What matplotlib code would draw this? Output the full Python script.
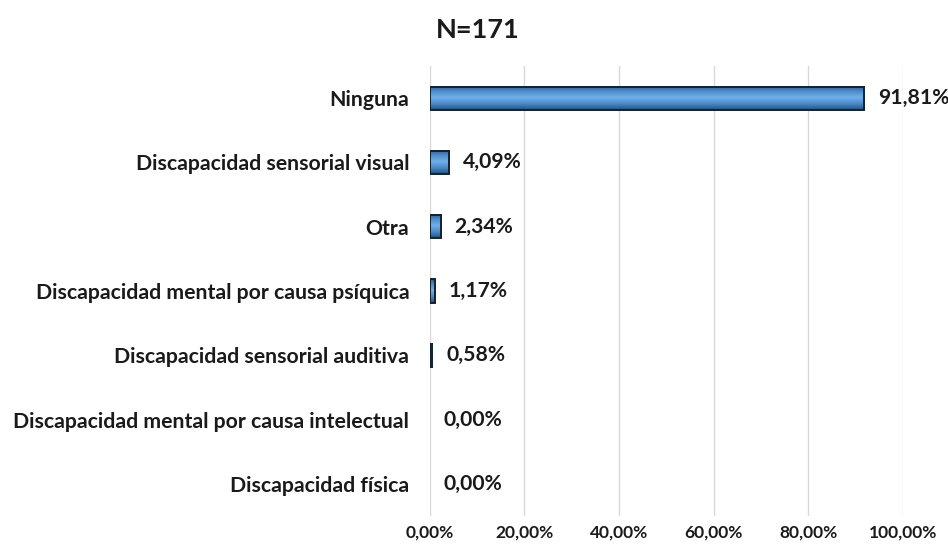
import numpy as np
import matplotlib.pyplot as plt
import matplotlib.ticker as mticker
from matplotlib.colors import LinearSegmentedColormap

# ── Data ──────────────────────────────────────────────────────────────────────
categories = [
    "Ninguna",
    "Discapacidad sensorial visual",
    "Otra",
    "Discapacidad mental por causa psíquica",
    "Discapacidad sensorial auditiva",
    "Discapacidad mental por causa intelectual",
    "Discapacidad física",
]
values = [91.81, 4.09, 2.34, 1.17, 0.58, 0.00, 0.00]
x_ticks = [0, 20, 40, 60, 80, 100]

plt.rcParams["font.family"] = ["Lato", "DejaVu Sans"]

fig = plt.figure(figsize=(9.48, 5.47), dpi=100)
ax = fig.add_axes([429.5 / 948, (547 - 516) / 547, (903 - 429.5) / 948, 450 / 547])

y = np.arange(len(categories))[::-1]
bar_h = 0.36

# gradient fill for the bevelled bars (dark edges, light centre)
grad = np.concatenate([np.linspace(0.2, 1, 30), np.linspace(1, 0.1, 34)])[:, None]
cmap = LinearSegmentedColormap.from_list("bev", ["#24527f", "#4a8ac8", "#6fb0ea"])
for yi, v in zip(y, values):
    if v <= 0:
        continue
    ax.imshow(grad, cmap=cmap, aspect="auto", interpolation="bicubic",
              extent=[0, v, yi - bar_h / 2, yi + bar_h / 2], zorder=2)
    ax.barh(yi, v, height=bar_h, facecolor="none", edgecolor="#15222f",
            linewidth=1.4, zorder=3)

for yi, v in zip(y, values):
    ax.annotate(f"{v:.2f}%".replace(".", ","), (v, yi), xytext=(10, 0),
                textcoords="offset points", ha="left", va="center",
                fontsize=15.2, fontweight="bold", color="#1a1a1a")

ax.set_xlim(0, 100)
ax.set_ylim(-0.5, len(categories) - 0.5)
ax.set_yticks(y)
ax.set_yticklabels(categories, fontsize=15.3, fontweight="bold", color="#1a1a1a")
ax.set_xticks(x_ticks)
ax.xaxis.set_major_formatter(mticker.FuncFormatter(lambda t, p: f"{t:.2f}%".replace(".", ",")))
for lbl in ax.get_xticklabels():
    lbl.set_fontweight("bold")
    lbl.set_fontsize(12.5)
    lbl.set_color("#1a1a1a")
ax.tick_params(axis="x", length=0, pad=6)
ax.tick_params(axis="y", length=0, pad=14.5)
ax.grid(axis="x", color="#d9d9d9", linewidth=1)
ax.set_axisbelow(True)
for s in ax.spines.values():
    s.set_visible(False)

fig.text(478 / 948, 1 - 30 / 547, "N=171", ha="center", va="center",
         fontsize=19.5, fontweight="bold", color="#1a1a1a")

fig.savefig("out.png", dpi=100)
